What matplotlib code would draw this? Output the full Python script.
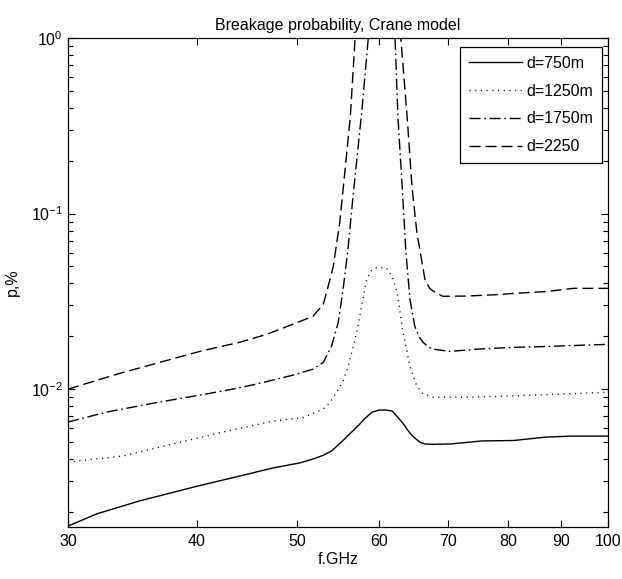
import matplotlib
matplotlib.use('Agg')
import matplotlib.pyplot as plt
from matplotlib import font_manager
from matplotlib.ticker import FixedLocator, FixedFormatter, LogLocator, NullFormatter, NullLocator

# values
f_750 = [30, 32, 35.2, 40, 44, 47.4, 50.3, 51.8, 53.0, 54.0, 55.2, 56.3, 57.5, 58.3, 59.1,
         60.0, 61.0, 61.8, 62.6, 63.3, 63.9, 64.5, 65.0, 65.8, 66.5, 67.5, 70.3, 75.5, 81,
         87, 92, 100]
p_750 = [0.00166, 0.00195, 0.00231, 0.0028, 0.0032, 0.00356, 0.0038, 0.0040, 0.0042,
         0.00445, 0.0050, 0.0056, 0.00633, 0.0069, 0.0074, 0.0076, 0.0076, 0.0075, 0.0069,
         0.0064, 0.0059, 0.0055, 0.00527, 0.00497, 0.00487, 0.00485, 0.00487, 0.00507,
         0.0051, 0.00533, 0.0054, 0.0054]

f_1250 = [30, 33.9, 37.9, 42.4, 47.4, 50.7, 53.0, 53.8, 54.6, 55.4, 56.0, 57.1, 57.9,
          58.4, 59.0, 59.7, 61.0, 61.8, 62.5, 63.3, 64.3, 65.3, 66.2, 67.7, 73.0, 78.6,
          87, 100]
p_1250 = [0.00385, 0.00416, 0.00487, 0.0057, 0.00658, 0.0069, 0.0077, 0.0084, 0.0096,
          0.0111, 0.0133, 0.0211, 0.0325, 0.0425, 0.0475, 0.0493, 0.049, 0.0439, 0.0356,
          0.0211, 0.0135, 0.0104, 0.0094, 0.0090, 0.0090, 0.0091, 0.0093, 0.0096]

f_1750 = [30, 32.7, 36.6, 40.9, 43.3, 45.7, 49.5, 51.8, 53.0, 54.0, 54.8, 55.4, 56.0,
          56.6, 57.2, 57.8, 58.6, 59.5, 61.0, 62.2, 62.6, 63.2, 63.7, 64.3, 65.0, 65.6,
          66.2, 67.0, 67.7, 70.3, 74.7, 80.9, 87.3, 91.9, 100]
p_1750 = [0.0065, 0.0074, 0.0084, 0.0094, 0.0100, 0.0107, 0.0120, 0.0130, 0.0142, 0.0176,
          0.024, 0.037, 0.0625, 0.12, 0.22, 0.40, 1.0, 3.0, 3.0, 1.0, 0.356, 0.142, 0.0625,
          0.0325, 0.0228, 0.020, 0.0185, 0.0174, 0.0169, 0.0164, 0.0169, 0.0173, 0.0175,
          0.0177, 0.018]

f_2250 = [30, 33.5, 40.3, 44.0, 46.7, 49.5, 51.8, 53.0, 53.4, 54.2, 55.0, 55.6, 56.3,
          56.9, 58.0, 62.0, 63.0, 63.9, 64.6, 65.3, 66.5, 67.2, 68.0, 69.2, 73.0, 78.6, 81,
          87.3, 92.5, 100]
p_2250 = [0.0100, 0.0122, 0.01644, 0.0185, 0.0205, 0.0234, 0.026, 0.0304, 0.0356, 0.05,
          0.09, 0.17, 0.356, 1.0, 3.0, 3.0, 1.0, 0.356, 0.142, 0.078, 0.042, 0.0375, 0.0356,
          0.0338, 0.0339, 0.0346, 0.0351, 0.036, 0.0375, 0.0375]

labels = ['d=750m', 'd=1250m', 'd=1750m', 'd=2250']
x_ticks = [30, 40, 50, 60, 70, 80, 90, 100]

# narrow Helvetica look, if the narrow face is there
names = {f.name for f in font_manager.fontManager.ttflist}
if 'Liberation Sans Narrow' in names:
    fam, fs = 'Liberation Sans Narrow', 13.5
else:
    fam, fs = 'Liberation Sans', 11.5
plt.rcParams['font.family'] = [fam, 'DejaVu Sans']
plt.rcParams['mathtext.default'] = 'regular'
plt.rcParams['font.size'] = fs

fig = plt.figure(figsize=(6.22, 5.79), dpi=100)
ax = fig.add_axes([68 / 622, 1 - 527 / 579, 540 / 622, 489 / 579])

lw = 1.0
ax.plot(f_750, p_750, color='black', lw=lw, label=labels[0])
ax.plot(f_1250, p_1250, color='black', lw=lw, dashes=(0.8, 3.3), label=labels[1])
ax.plot(f_1750, p_1750, color='black', lw=lw, dashes=(8, 2.6, 1.2, 2.6), label=labels[2])
ax.plot(f_2250, p_2250, color='black', lw=lw, dashes=(8, 3.5), label=labels[3])

ax.set_xscale('log')
ax.set_yscale('log')
ax.set_xlim(30, 100)
ax.set_ylim(1.64e-3, 1)

ax.xaxis.set_major_locator(FixedLocator(x_ticks))
ax.xaxis.set_major_formatter(FixedFormatter([str(t) for t in x_ticks]))
ax.xaxis.set_minor_locator(NullLocator())
ax.yaxis.set_major_locator(FixedLocator([1e-2, 1e-1, 1]))
ax.yaxis.set_major_formatter(FixedFormatter(['$10^{-2}$', '$10^{-1}$', '$10^{0}$']))
ax.yaxis.set_minor_locator(LogLocator(base=10, subs=range(2, 10)))
ax.yaxis.set_minor_formatter(NullFormatter())

ax.tick_params(which='both', direction='in', top=True, right=True, width=0.8, colors='black')
ax.tick_params(which='major', length=5)
ax.tick_params(which='minor', length=3.5)
ax.tick_params(axis='x', pad=5)
for s in ax.spines.values():
    s.set_linewidth(0.9)

ax.set_title('Breakage probability, Crane model', fontsize=fs, pad=6)
ax.set_xlabel('f.GHz', fontsize=fs, labelpad=2)
ax.set_ylabel('p,%', fontsize=fs, labelpad=8)

leg = ax.legend(loc='upper right', bbox_to_anchor=((602 - 68) / 540, 1 - 9 / 489),
                bbox_transform=ax.transAxes, borderaxespad=0, fancybox=False, framealpha=1,
                edgecolor='black', handlelength=3.3, handletextpad=0.3, labelspacing=0.8,
                borderpad=0.55, fontsize=fs)
leg.get_frame().set_linewidth(0.9)

fig.savefig('out.png', dpi=100)
